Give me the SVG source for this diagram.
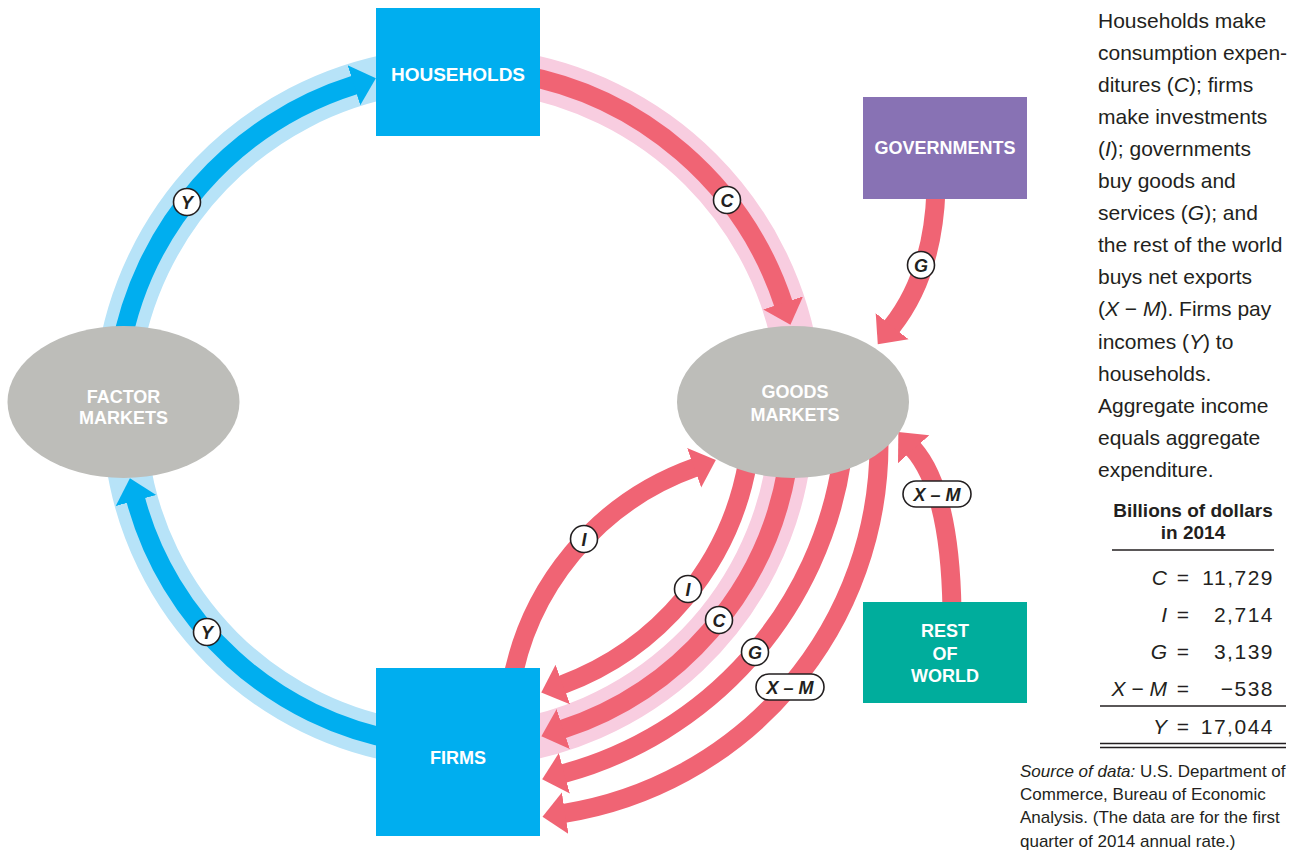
<svg xmlns="http://www.w3.org/2000/svg" width="1304" height="855" viewBox="0 0 1304 855">
  <defs>
    <style>
      .band-blue{fill:none;stroke:#b7e3f8;stroke-width:44}
      .band-pink{fill:none;stroke:#f8cde0;stroke-width:44}
      .flow-blue{fill:none;stroke:#00aeef;stroke-width:19;marker-end:url(#headBlue)}
      .flow-red{fill:none;stroke:#f06474;stroke-width:19;marker-end:url(#headRed)}
      .box-text{font-family:"Liberation Sans",Arial,sans-serif;font-weight:bold;font-size:18px;fill:#ffffff;text-anchor:middle}
      .box-text.wide{font-size:19px}
      .tag circle,.tag rect{fill:#ffffff;stroke:#231f20;stroke-width:1.6}
      .tag text{font-family:"Liberation Sans",Arial,sans-serif;font-weight:bold;font-style:italic;font-size:18px;fill:#231f20;text-anchor:middle}
      .body{font-family:"Liberation Sans",Arial,sans-serif;font-size:21px;fill:#231f20}
      .head{font-family:"Liberation Sans",Arial,sans-serif;font-size:19px;font-weight:bold;fill:#231f20;text-anchor:middle}
      .num{font-family:"Liberation Sans",Arial,sans-serif;font-size:21px;fill:#231f20}
      .src{font-family:"Liberation Sans",Arial,sans-serif;font-size:17px;fill:#231f20}
      .rule{stroke:#231f20;stroke-width:1.5}
    </style>
    <marker id="headRed" markerUnits="userSpaceOnUse" markerWidth="24" markerHeight="44" viewBox="0 0 24 44" refX="1" refY="22" orient="auto">
      <path d="M0,1 L23,22 L0,43 Z" fill="#f06474"/>
    </marker>
    <marker id="headBlue" markerUnits="userSpaceOnUse" markerWidth="24" markerHeight="44" viewBox="0 0 24 44" refX="1" refY="22" orient="auto">
      <path d="M0,1 L23,22 L0,43 Z" fill="#00aeef"/>
    </marker>
  </defs>

  <!-- flows between sectors and markets -->
  <g id="connectors">
    <!-- wide pale bands of the main circular flow -->
    <path class="band-blue" d="M118.3 364.3 A343 343 0 0 1 398.4 74.2"/>
    <path class="band-pink" d="M505.7 72.3 A343 343 0 0 1 797.7 364.3"/>
    <path class="band-pink" d="M788.8 458.5 A334 334 0 0 1 487.1 744.7"/>
    <path class="band-blue" d="M411.5 742.8 A334 334 0 0 1 127.3 458.5"/>

    <!-- income Y -->
    <path class="flow-blue" d="M120 352 A343 343 0 0 1 354.9 84.9"/>
    <path class="flow-blue" d="M400 740.9 A334 334 0 0 1 135.7 499.6"/>

    <!-- consumption C -->
    <path class="flow-red" d="M517.6 74.2 A343 343 0 0 1 783.5 303.9"/>
    <path class="flow-red" d="M786.9 470 A334 334 0 0 1 562.3 729.3"/>

    <!-- investment I -->
    <path class="flow-red" d="M510.5 689.7 A283 283 0 0 1 695.1 467.4"/>
    <path class="flow-red" d="M747.6 462.5 A291 291 0 0 1 561.9 684.9"/>

    <!-- government purchases G -->
    <path class="flow-red" d="M936 190 Q933 275 891.5 327"/>
    <path class="flow-red" d="M841.8 460.6 A383 383 0 0 1 563.4 773.6"/>

    <!-- net exports X - M -->
    <path class="flow-red" d="M952 610 Q950 490 913 448.5"/>
    <path class="flow-red" d="M879 444 A374 374 0 0 1 564.2 813.3"/>

    <!-- flow tags -->
    <g class="tag"><circle cx="187" cy="202" r="13.5"/><text x="187" y="208.5">Y</text></g>
    <g class="tag"><circle cx="727" cy="200" r="13.5"/><text x="727" y="206.5">C</text></g>
    <g class="tag"><circle cx="921" cy="265" r="13.5"/><text x="921" y="271.5">G</text></g>
    <g class="tag"><circle cx="207" cy="632" r="13.5"/><text x="207" y="638.5">Y</text></g>
    <g class="tag"><circle cx="584" cy="539" r="13.5"/><text x="584" y="545.5">I</text></g>
    <g class="tag"><circle cx="688" cy="589" r="13.5"/><text x="688" y="595.5">I</text></g>
    <g class="tag"><circle cx="719" cy="620" r="13.5"/><text x="719" y="626.5">C</text></g>
    <g class="tag"><circle cx="755" cy="652" r="13.5"/><text x="755" y="658.5">G</text></g>
    <g class="tag"><rect x="756" y="674" width="68" height="26" rx="13"/><text x="790" y="693.5">X – M</text></g>
    <g class="tag"><rect x="903" y="481" width="68" height="26" rx="13"/><text x="937" y="500.5">X – M</text></g>
  </g>

  <g id="households">
    <rect x="376" y="8" width="164" height="128" fill="#00aeef"/>
    <text class="box-text wide" x="458" y="81">HOUSEHOLDS</text>
  </g>

  <g id="firms">
    <rect x="376" y="668" width="164" height="168" fill="#00aeef"/>
    <text class="box-text" x="458" y="764">FIRMS</text>
  </g>

  <g id="governments">
    <rect x="863" y="97" width="164" height="102" fill="#8872b4"/>
    <text class="box-text" x="945" y="154">GOVERNMENTS</text>
  </g>

  <g id="rest-of-world">
    <rect x="863" y="602" width="164" height="101" fill="#00ad9c"/>
    <text class="box-text" x="945" y="637">REST</text>
    <text class="box-text" x="945" y="660">OF</text>
    <text class="box-text" x="945" y="682">WORLD</text>
  </g>

  <g id="factor-markets">
    <ellipse cx="123.5" cy="402" rx="116" ry="76" fill="#bdbdb9"/>
    <text class="box-text" x="123.5" y="403">FACTOR</text>
    <text class="box-text" x="123.5" y="424">MARKETS</text>
  </g>

  <g id="goods-markets">
    <ellipse cx="793" cy="402" rx="116" ry="76" fill="#bdbdb9"/>
    <text class="box-text" x="795" y="398">GOODS</text>
    <text class="box-text" x="795" y="421">MARKETS</text>
  </g>

  <!-- explanatory caption -->
  <g id="caption" class="body">
    <text x="1098" y="27.5">Households make</text>
    <text x="1098" y="59.6">consumption expen-</text>
    <text x="1098" y="91.7">ditures (<tspan font-style="italic">C</tspan>); firms</text>
    <text x="1098" y="123.8">make investments</text>
    <text x="1098" y="155.9">(<tspan font-style="italic">I</tspan>); governments</text>
    <text x="1098" y="188">buy goods and</text>
    <text x="1098" y="220.1">services (<tspan font-style="italic">G</tspan>); and</text>
    <text x="1098" y="252.2">the rest of the world</text>
    <text x="1098" y="284.3">buys net exports</text>
    <text x="1098" y="316.4">(<tspan font-style="italic">X</tspan> − <tspan font-style="italic">M</tspan>). Firms pay</text>
    <text x="1098" y="348.5">incomes (<tspan font-style="italic">Y</tspan>) to</text>
    <text x="1098" y="380.6">households.</text>
    <text x="1098" y="412.7">Aggregate income</text>
    <text x="1098" y="444.8">equals aggregate</text>
    <text x="1098" y="476.9">expenditure.</text>
  </g>

  <!-- data table -->
  <g id="data-table">
    <text class="head" x="1193" y="517">Billions of dollars</text>
    <text class="head" x="1193" y="539">in 2014</text>
    <line class="rule" x1="1112" y1="550" x2="1274" y2="550"/>

    <g class="num">
      <text x="1167" y="585" text-anchor="end" font-style="italic">C</text>
      <text x="1183" y="585" text-anchor="middle">=</text>
      <text x="1274" y="585" text-anchor="end" letter-spacing="1.5">11,729</text>

      <text x="1167" y="622" text-anchor="end" font-style="italic">I</text>
      <text x="1183" y="622" text-anchor="middle">=</text>
      <text x="1274" y="622" text-anchor="end" letter-spacing="1.5">2,714</text>

      <text x="1167" y="659" text-anchor="end" font-style="italic">G</text>
      <text x="1183" y="659" text-anchor="middle">=</text>
      <text x="1274" y="659" text-anchor="end" letter-spacing="1.5">3,139</text>

      <text x="1167" y="696" text-anchor="end"><tspan font-style="italic">X</tspan> − <tspan font-style="italic">M</tspan></text>
      <text x="1183" y="696" text-anchor="middle">=</text>
      <text x="1274" y="696" text-anchor="end" letter-spacing="1.5">−538</text>

      <text x="1167" y="734" text-anchor="end" font-style="italic">Y</text>
      <text x="1183" y="734" text-anchor="middle">=</text>
      <text x="1274" y="734" text-anchor="end" letter-spacing="1.5">17,044</text>
    </g>
    <line class="rule" x1="1100" y1="706" x2="1286" y2="706"/>
    <line class="rule" x1="1100" y1="743.5" x2="1286" y2="743.5"/>
    <line class="rule" x1="1100" y1="747.5" x2="1286" y2="747.5"/>
  </g>

  <!-- data source note -->
  <g id="source" class="src">
    <text x="1020" y="777"><tspan font-style="italic">Source of data:</tspan> U.S. Department of</text>
    <text x="1020" y="800">Commerce, Bureau of Economic</text>
    <text x="1020" y="823">Analysis. (The data are for the first</text>
    <text x="1020" y="847">quarter of 2014 annual rate.)</text>
  </g>
</svg>
